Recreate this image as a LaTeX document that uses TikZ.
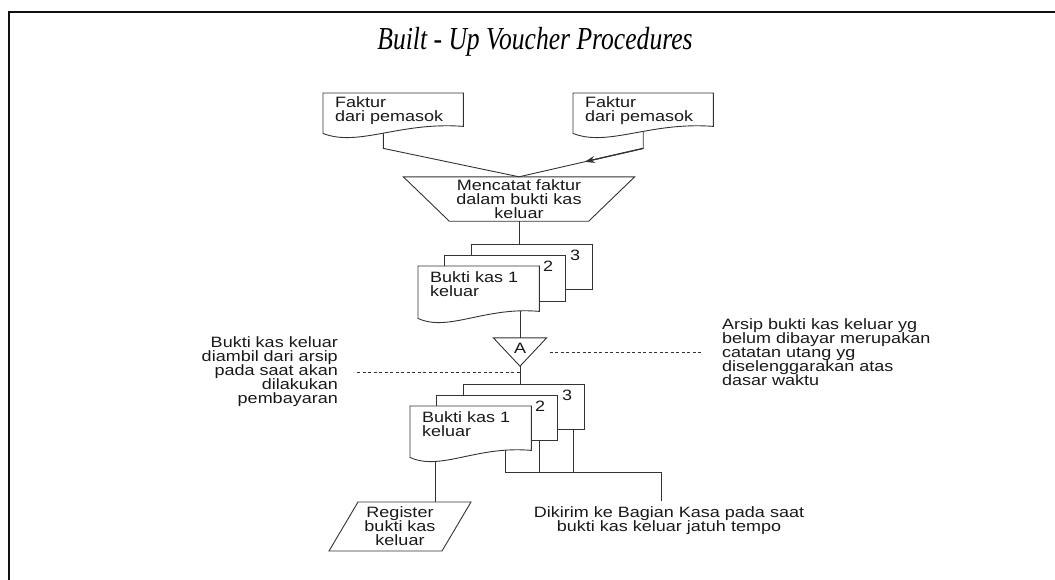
\documentclass[tikz,border=0pt]{standalone}
\usepackage{fontspec}
\usepackage{xcolor}
\usepackage{tikz}
\usetikzlibrary{positioning, arrows.meta, backgrounds, calc}
\newfontfamily\flowfont{Liberation Sans}[FakeStretch=1.2]
\newfontfamily\titlefont{Liberation Serif}[FakeStretch=0.8]
\definecolor{flowline}{HTML}{333333}
\definecolor{framedark}{HTML}{111111}

\tikzset{
  wire/.style={draw=flowline, line width=0.9pt},
  docline/.style={wire, fill=white},
  notedash/.style={draw=flowline, line width=0.8pt, dash pattern=on 3pt off 2.5pt},
  flowtext/.style={font=\flowfont\fontsize{15pt}{14pt}\selectfont, text=black!90},
  docpage/.style={flowtext, anchor=north west, align=left, inner xsep=12pt, inner ysep=0pt, text width=#1},
  backpage/.style={flowtext, anchor=north west, align=right, inner xsep=12pt, inner ysep=0pt,
    text width=97pt, minimum height=22pt},
}

% page with a wavy foot, #2 below the node
\newcommand{\docwave}[2]{%
  \draw[docline] (#1.north west) -- (#1.north east) -- ($(#1.south east)+(0,#2-7)$)
    .. controls ($(#1.south west)!0.55!(#1.south east)+(0,#2-12)$)
    and ($(#1.south west)!0.25!(#1.south east)+(0,#2+14)$)
    .. ($(#1.south west)+(0,#2)$) -- cycle;}
% plain page behind, #2 below the node
\newcommand{\docplain}[2]{%
  \draw[docline] (#1.north west) rectangle ($(#1.south east)+(0,#2)$);}

\begin{document}
\begin{tikzpicture}[x=1pt, y=-1pt]
  \useasboundingbox (0,0) rectangle (1055,579);
  \draw[framedark, line width=2.2pt] (9,590) -- (9,12) -- (1065,12);

  \node[font=\titlefont\itshape\fontsize{32pt}{32pt}\selectfont] (title) at (535,42) {Built - Up Voucher Procedures};

  % invoices
  \node[docpage=116pt, minimum height=34pt] (fakL) at (323,93) {Faktur\\dari pemasok};
  \node[docpage=116pt, minimum height=34pt] (fakR) at (573,93) {Faktur\\dari pemasok};

  \node[flowtext, align=center, minimum width=139pt, minimum height=44pt, inner sep=1pt] (catat) at (519,199)
    {Mencatat faktur\\dalam bukti kas\\keluar};

  % first set of copies
  \node[backpage] (kasA3) at (471,244) {3};
  \node[backpage] (kasA2) at (444,255) {2};
  \node[docpage=97pt, minimum height=36pt] (kasA1) at (418,266) {Bukti kas 1\\keluar};

  \node[flowtext, minimum width=53pt, minimum height=28pt, inner sep=0pt, text depth=8pt] (arsipA) at (520,352) {A};

  % second set of copies
  \node[backpage] (kasB3) at (463,384) {3};
  \node[backpage] (kasB2) at (436,395) {2};
  \node[docpage=97pt, minimum height=36pt] (kasB1) at (410,406) {Bukti kas 1\\keluar};

  \node[flowtext, align=center, minimum height=49pt, inner sep=0pt] (register) at (400,526.5)
    {Register\\bukti kas\\keluar};

  \node[flowtext, anchor=east, align=right, inner xsep=0pt] (ambilnote) at (338,372)
    {Bukti kas keluar\\diambil dari arsip\\pada saat akan\\dilakukan\\pembayaran};
  \node[flowtext, anchor=west, align=left, inner xsep=0pt] (arsipnote) at (722,352)
    {Arsip bukti kas keluar yg\\belum dibayar merupakan\\catatan utang yg\\diselenggarakan atas\\dasar waktu};
  \node[flowtext, align=center, inner ysep=6pt] (kirimnote) at (669,521)
    {Dikirim ke Bagian Kasa pada saat\\bukti kas keluar jatuh tempo};
  \coordinate (kasbus) at (661,472);

  \begin{pgfonlayer}{background}
    % connectors first, the pages cover their ends
    \draw[wire] ($(fakL.south west)!0.43!(fakL.south east)$) -- ++(0,21) -- (catat.north);
    \draw[wire] ($(fakR.south west)!0.5!(fakR.south east)$) -- ++(0,21) coordinate (fakRbend) -- (catat.north);
    \draw[wire, line width=1.3pt, -{Stealth[length=10pt, width=7pt]}] (fakRbend) -- ($(fakRbend)!0.47!(catat.north)$);
    \draw[wire] (catat.south) -- (catat.south |- kasA3.north);
    \draw[wire] (kasA1.south -| arsipA.north) -- (arsipA.north);
    \draw[wire] (arsipA.south) -- (arsipA.south |- kasB3.north);
    \draw[wire] ($(kasB1.south west)!0.79!(kasB1.south east)$) |- (kasbus) -- (kasbus |- kirimnote.north);
    \draw[wire] ($(kasB2.south west)!0.85!(kasB2.south east)$) |- (kasbus);
    \draw[wire] ($(kasB3.south west)!0.91!(kasB3.south east)$) |- (kasbus);
    \path ($(kasB1.south west)!0.21!(kasB1.south east)$) coordinate (kasB1foot);
    \draw[wire] (kasB1foot) -- (kasB1foot |- register.north);

    % pages
    \docwave{fakL}{6}
    \docwave{fakR}{6}
    \docplain{kasA3}{23}
    \docplain{kasA2}{24}
    \docwave{kasA1}{16}
    \docplain{kasB3}{23}
    \docplain{kasB2}{23}
    \docwave{kasB1}{15}
  \end{pgfonlayer}

  \draw[wire] ($(catat.north west)+(-46,0)$) -- ($(catat.north east)+(46,0)$) -- (catat.south east) -- (catat.south west) -- cycle;
  \draw[wire] (arsipA.north west) -- (arsipA.north east) -- (arsipA.south) -- cycle;
  \draw[wire] ($(register.center)+(-42,-24.5)$) -- ($(register.center)+(71,-24.5)$)
    -- ($(register.center)+(42,24.5)$) -- ($(register.center)+(-71,24.5)$) -- cycle;

  \draw[notedash] ($(arsipA.east)+(3,0)$) -- ($(arsipnote.west)+(-20,0)$);
  \draw[notedash] ($(ambilnote.east)+(19,0)$) -- (ambilnote.east -| arsipA.south);
\end{tikzpicture}
\end{document}
